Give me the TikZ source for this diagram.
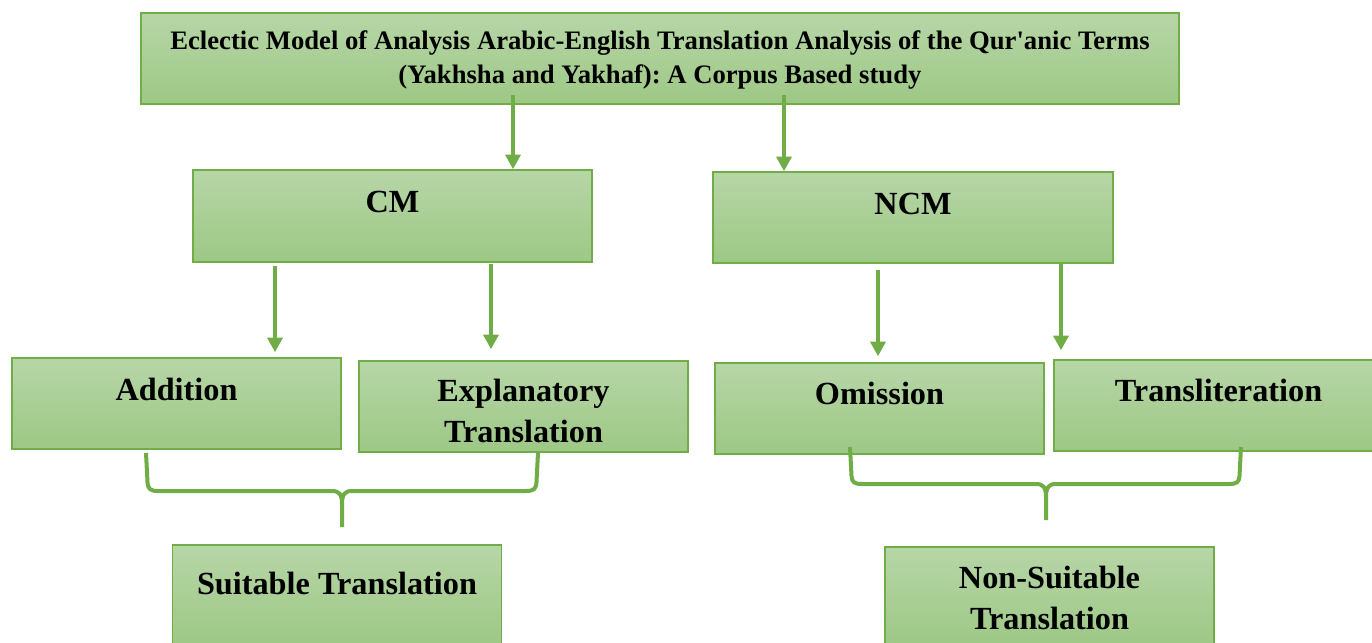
\documentclass[tikz,border=0pt]{standalone}
\usepackage{fontspec}
\setmainfont{Liberation Serif}
\usetikzlibrary{arrows.meta}
\frenchspacing

\definecolor{boxline}{RGB}{112,173,71}
\definecolor{boxtop}{RGB}{183,214,167}
\definecolor{boxbottom}{RGB}{157,200,133}

\tikzset{every picture/.style={line width=0.75pt}}
\tikzset{
  greenbox/.style={draw=boxline, line width=1.2pt, top color=boxtop, bottom color=boxbottom,
    inner sep=0pt, minimum width=246.75pt, minimum height=68.25pt},
  boxtext/.style={anchor=base, inner sep=0pt, align=center,
    font=\fontsize{24.2}{30.75}\selectfont\bfseries},
  titletext/.style={anchor=base, inner sep=0pt, align=center,
    font=\fontsize{20}{25.5}\selectfont\bfseries},
  flowarrow/.style={draw=boxline, line width=3pt, -{Triangle[length=11pt, width=11.25pt]}},
  bracket/.style={draw=boxline, line width=3pt, line join=round}
}

\begin{document}
\begin{tikzpicture}[x=0.75pt,y=0.75pt,yscale=-1,xscale=1]
\path[use as bounding box] (0,0) rectangle (1372,643);

%Shape: Rectangle
\node[greenbox, minimum width=778.5pt] (title) at (660,58.5) {};
%Shape: Rectangle
\node[greenbox, minimum width=299.25pt, minimum height=69pt] (cm) at (392.5,216) {};
%Shape: Rectangle
\node[greenbox, minimum width=300pt] (ncm) at (913,217.5) {};
%Shape: Rectangle
\node[greenbox] (add) at (176.5,403.5) {};
%Shape: Rectangle
\node[greenbox] (expl) at (523.5,406.5) {};
%Shape: Rectangle
\node[greenbox] (omis) at (879.5,408.5) {};
%Shape: Rectangle
\node[greenbox] (translit) at (1218.5,405.5) {};
%Shape: Rectangle
\node[greenbox, minimum height=75pt] (suit) at (337,595) {};
%Shape: Rectangle
\node[greenbox, minimum height=75pt] (nonsuit) at (1049.5,597) {};

%Straight Lines
\draw[flowarrow, shorten <=-7.5pt] (title.south -| 513,0) -- (cm.north -| 513,0);
\draw[flowarrow, shorten <=-7.5pt] (title.south -| 784,0) -- (ncm.north -| 784,0);
\draw[flowarrow, shorten <=2.25pt, shorten >=3.75pt] (cm.south -| 275,0) -- (add.north -| 275,0);
\draw[flowarrow, shorten <=0.75pt, shorten >=8.25pt] (cm.south -| 491,0) -- (expl.north -| 491,0);
\draw[flowarrow, shorten <=4.5pt, shorten >=4.5pt] (ncm.south -| 878,0) -- (omis.north -| 878,0);
\draw[flowarrow, shorten >=6.75pt] (ncm.south -| 1061,0) -- (translit.north -| 1061,0);

%Shape: Brace
\draw[bracket] (146,453) -- (147.5,482) .. controls (148,489) and (150,491) .. (158,491) -- (332,491) .. controls (339,491) and (342,494) .. (342,504) -- (342,527);
\draw[bracket] (342,504) .. controls (342,494) and (345,491) .. (352,491) -- (526,491) .. controls (534,491) and (536,489) .. (536.5,482) -- (538,453);
%Shape: Brace
\draw[bracket] (850,447) -- (851.5,476) .. controls (852,482) and (854,484) .. (862,484) -- (1036,484) .. controls (1043,484) and (1046,487) .. (1046,497) -- (1046,520);
\draw[bracket] (1046,497) .. controls (1046,487) and (1049,484) .. (1056,484) -- (1229,484) .. controls (1237,484) and (1239,482) .. (1239.5,476) -- (1241,447);

% Text Node
\node[titletext] (titlelabel) at (660,83) {Eclectic Model of Analysis Arabic-English Translation Analysis of the Qur\textquotesingle anic Terms\\(Yakhsha and Yakhaf): A Corpus Based study};
% Text Node
\node[boxtext] (cmlabel) at (392.5,212) {CM};
% Text Node
\node[boxtext] (ncmlabel) at (913,214) {NCM};
% Text Node
\node[boxtext] (addlabel) at (176.5,400) {Addition};
% Text Node
\node[boxtext] (expllabel) at (523.5,442) {Explanatory\\Translation};
% Text Node
\node[boxtext] (omislabel) at (879.5,404) {Omission};
% Text Node
\node[boxtext] (translitlabel) at (1218.5,401) {Transliteration};
% Text Node
\node[boxtext] (suitlabel) at (337,594) {Suitable Translation};
% Text Node
\node[boxtext] (nonsuitlabel) at (1049.5,629) {Non-Suitable\\Translation};

\end{tikzpicture}
\end{document}
